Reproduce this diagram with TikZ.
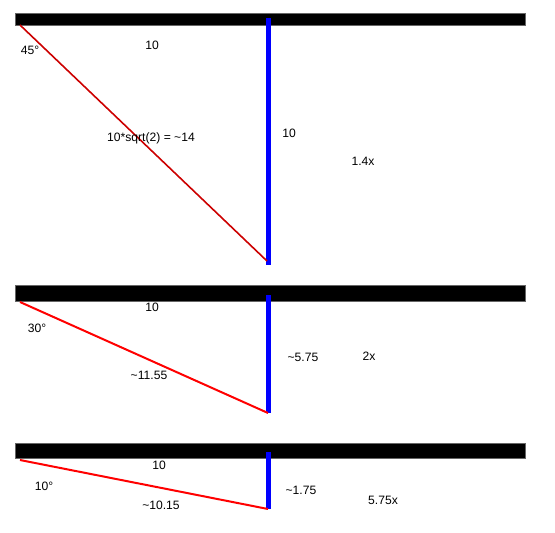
\documentclass[tikz,border=0pt]{standalone}
\usepackage{fontspec}
\setmainfont{Liberation Sans}
\begin{document}
\begin{tikzpicture}[x=0.75pt,y=-0.75pt,
  bar/.style={fill=black,draw=black!60,line width=0.5pt},
  blueline/.style={draw=blue,line width=3.75pt},
  redline/.style={draw=red,line width=1.5pt},
  darkred/.style={draw=red!80!black,line width=1.2pt},
  lbl/.style={font=\fontsize{9.1}{11}\selectfont,inner sep=0pt}]
\useasboundingbox (0,0) rectangle (555,532);
% panel 1
\draw[bar] (15,13) rectangle (525,25);
\coordinate (a1) at (20,25);
\coordinate (t1) at (268,18);
\coordinate (b1) at (268,265);
\coordinate (e1) at (267,261);
\draw[blueline] (t1) -- (b1);
\draw[darkred] (a1) -- (e1);
\node[lbl] (l1a) at (30,50) {45°};
\node[lbl] (l1b) at (152,45) {10};
\node[lbl] (l1c) at (151,138) {10*sqrt(2) = \textasciitilde14};
\node[lbl] (l1d) at (289,133) {10};
\node[lbl] (l1e) at (363,161) {1.4x};
% panel 2
\draw[bar] (15,285) rectangle (525,301);
\coordinate (a2) at (20,302);
\coordinate (t2) at (268,295);
\coordinate (b2) at (268,413);
\draw[blueline] (t2) -- (b2);
\draw[redline] (a2) -- (b2);
\node[lbl] (l2a) at (152,307) {10};
\node[lbl] (l2b) at (37,328) {30°};
\node[lbl] (l2c) at (149,375) {\textasciitilde11.55};
\node[lbl] (l2d) at (303,357) {\textasciitilde5.75};
\node[lbl] (l2e) at (369,356) {2x};
% panel 3
\draw[bar] (15,443) rectangle (525,458);
\coordinate (a3) at (20,460);
\coordinate (t3) at (268,452);
\coordinate (b3) at (268,509);
\draw[blueline] (t3) -- (b3);
\draw[redline] (a3) -- (b3);
\node[lbl] (l3a) at (159,465) {10};
\node[lbl] (l3b) at (44,486) {10°};
\node[lbl] (l3c) at (161,505) {\textasciitilde10.15};
\node[lbl] (l3d) at (301,490) {\textasciitilde1.75};
\node[lbl] (l3e) at (383,500) {5.75x};
\end{tikzpicture}
\end{document}
